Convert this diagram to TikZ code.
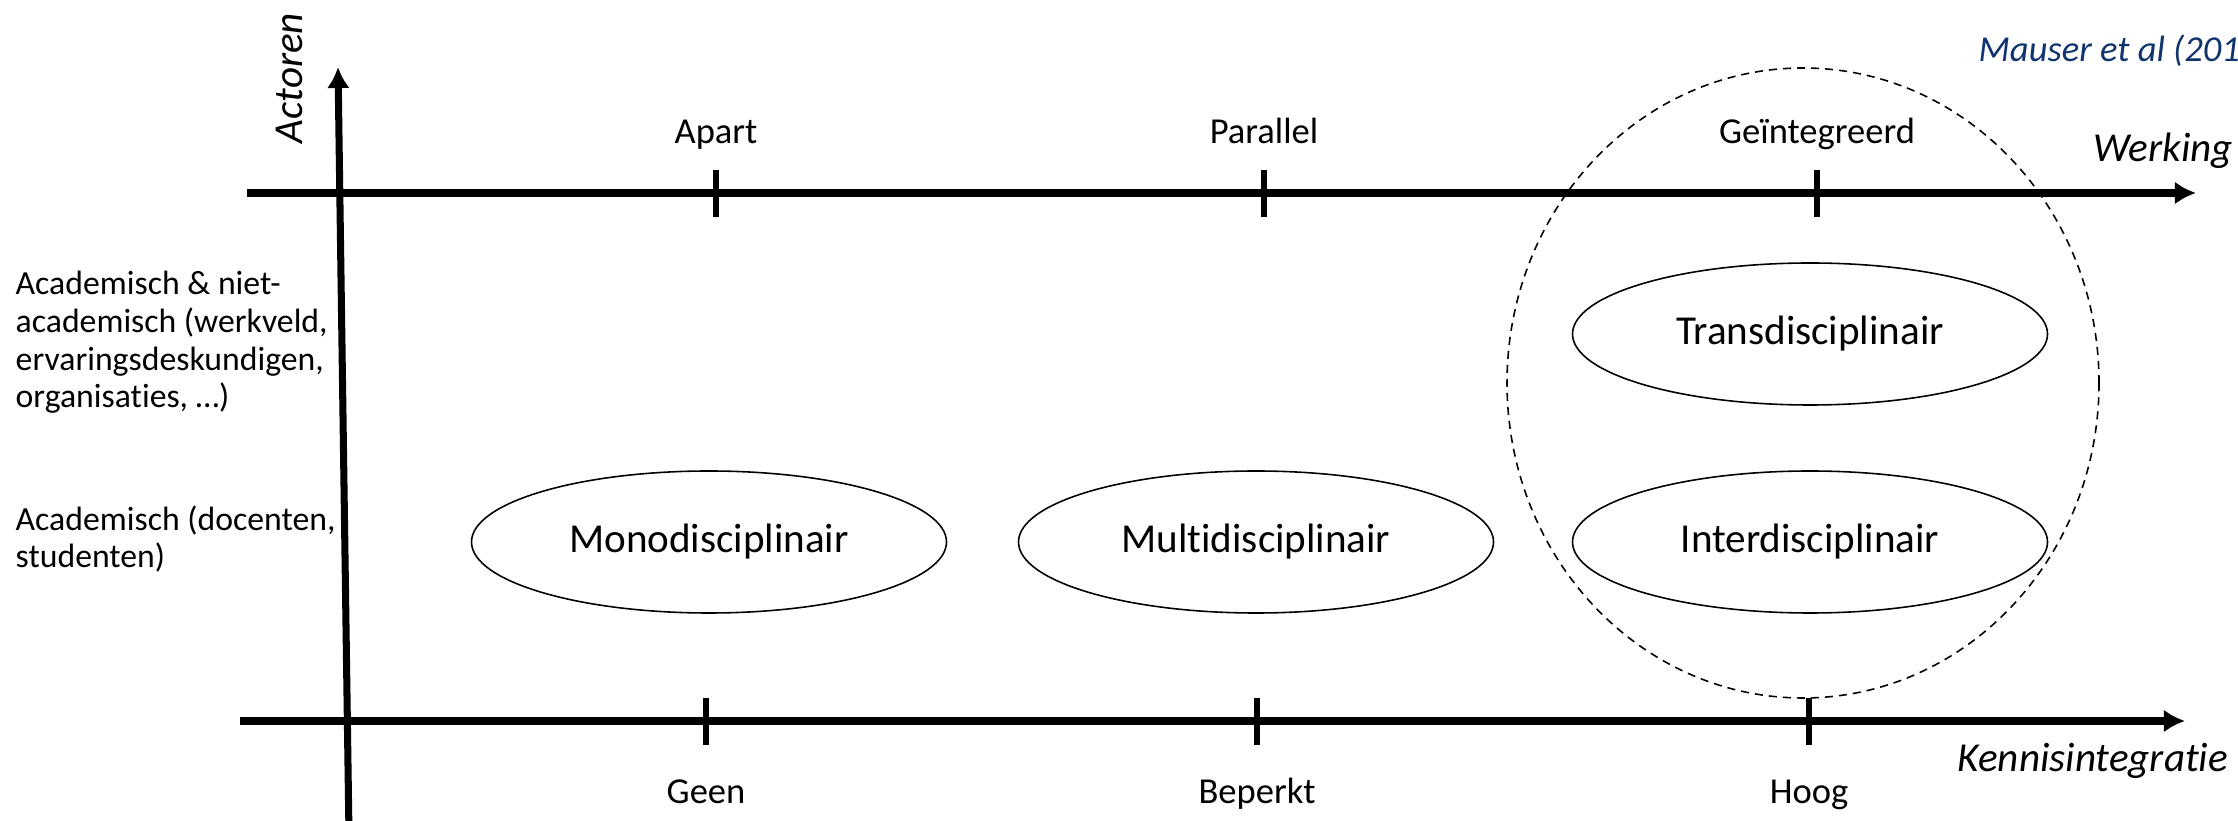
\documentclass[tikz,border=0pt]{standalone}
\usepackage{fontspec}
\setmainfont{Carlito}[Ligatures=NoCommon]
\usepackage{xcolor}
\usepackage{tikz}
\usetikzlibrary{arrows.meta}
\usetikzlibrary{shapes.geometric}
\usetikzlibrary{positioning}
\definecolor{citeblue}{RGB}{16,52,110}

\begin{document}
\begin{tikzpicture}[
	axis/.style={line width=2pt,-{Latex[length=6pt,width=6.5pt]}},
	tick/.style={line width=1.7pt},
	vak/.style={draw,ellipse,line width=0.45pt,minimum width=4.75cm,minimum height=1.42cm,inner sep=0pt,font=\fontsize{11.7}{14}\selectfont},
	ticklbl/.style={anchor=base,inner sep=0pt,font=\fontsize{10.4}{12}\selectfont},
	asnaam/.style={inner sep=0pt,font=\fontsize{11.7}{14}\selectfont\itshape},
	actor/.style={anchor=base west,align=left,inner sep=0pt,font=\fontsize{9.6}{10.8}\selectfont}]
		\useasboundingbox (0,0) rectangle (22.38,-8.21);
		\coordinate (wl) at (2.47,-1.93);
		\coordinate (wr) at (21.96,-1.93);
		\coordinate (kl) at (2.40,-7.21);
		\coordinate (kr) at (21.85,-7.21);
		\coordinate (ab) at (3.49,-8.35);
		\coordinate (at) at (3.38,-0.67);
		\draw [axis] (wl) -- (wr);
		\draw [axis] (kl) -- (kr);
		\draw [axis] (ab) -- (at);
		\foreach \x/\t/\n in {7.16/Apart/apart,12.64/Parallel/parallel,18.17/Geïntegreerd/geint}{
			\draw [tick] (\x,-1.70) -- (\x,-2.17);
			\node [ticklbl] (\n) at (\x,-1.44) {\t};
		}
		\foreach \x/\t/\n in {7.06/Geen/geen,12.57/Beperkt/beperkt,18.09/Hoog/hoog}{
			\draw [tick] (\x,-6.98) -- (\x,-7.45);
			\node [ticklbl] (\n) at (\x,-8.03) {\t};
		}
		\node [asnaam,anchor=base west] (werking) at (20.93,-1.62) {Werking};
		\node [asnaam,anchor=base west] (kennis) at (19.57,-7.72) {Kennisintegratie};
		\node [asnaam,rotate=90,anchor=base] (actoren) at (3.02,-0.78) {Actoren};
		\node [anchor=base west,inner sep=0pt,text=citeblue,font=\fontsize{10.4}{12}\selectfont\itshape] (bron) at (19.78,-0.62) {Mauser et al (201};
		\node [actor] (nietacad) at (0.15,-4.08) {Academisch \& niet-\\academisch (werkveld,\\ervaringsdeskundigen,\\organisaties, …)};
		\node [actor] (acad) at (0.15,-5.68) {Academisch (docenten,\\studenten)};
		\node [vak] (mono) at (7.09,-5.42) {Monodisciplinair};
		\node [vak] (multi) at (12.56,-5.42) {Multidisciplinair};
		\node [vak] (inter) at (18.10,-5.42) {Interdisciplinair};
		\node [vak] (trans) at (18.10,-3.34) {Transdisciplinair};
		\draw [dashed,line width=0.45pt,dash pattern=on 2.3pt off 1.7pt] (18.03,-3.83) ellipse (2.96 and 3.15);
	\end{tikzpicture}
\end{document}
